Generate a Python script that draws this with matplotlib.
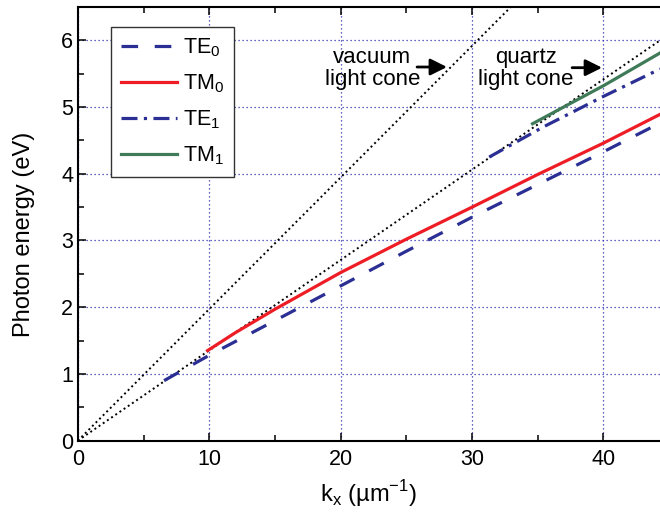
import matplotlib
matplotlib.use("Agg")
import matplotlib.pyplot as plt
from matplotlib.ticker import MultipleLocator

plt.rcParams['font.family'] = ['Liberation Sans', 'DejaVu Sans']
plt.rcParams['mathtext.fontset'] = 'custom'
plt.rcParams['mathtext.rm'] = 'Liberation Sans'

# values (k in 1/um, energy in eV)
te0_k = [6.56, 10.0, 15.0, 20.0, 25.0, 30.0, 35.0, 40.0, 44.3]
te0_e = [0.90, 1.28, 1.80, 2.32, 2.84, 3.35, 3.84, 4.33, 4.76]

tm0_k = [9.87, 12.0, 15.0, 20.0, 25.0, 30.0, 35.0, 40.0, 44.3]
tm0_e = [1.35, 1.62, 1.97, 2.52, 3.02, 3.50, 3.99, 4.46, 4.89]

te1_k = [31.3, 35.4, 40.0, 44.3]
te1_e = [4.25, 4.70, 5.16, 5.57]

tm1_k = [34.6, 40.0, 44.3]
tm1_e = [4.75, 5.32, 5.81]

vacuum_k = [0.0, 33.0]
vacuum_e = [0.0, 6.51]
quartz_k = [0.0, 48.0]
quartz_e = [0.0, 6.50]

blue = '#2b2f93'
red = '#ee1d25'
green = '#3f7b58'

fig = plt.figure(figsize=(6.6, 5.16), dpi=100)
ax = fig.add_axes([0.118, 0.146, 0.882, 0.8405])

ax.plot(vacuum_k, vacuum_e, color='k', lw=1.4, linestyle=(0, (1, 1.6)))
ax.plot(quartz_k, quartz_e, color='k', lw=1.4, linestyle=(0, (1, 1.6)))

ax.plot(te0_k, te0_e, color=blue, lw=2.3, linestyle=(0, (5.2, 5.2)), label='TE$_\\mathregular{0}$')
ax.plot(tm0_k, tm0_e, color=red, lw=2.3, label='TM$_\\mathregular{0}$')
ax.plot(te1_k, te1_e, color=blue, lw=2.3, linestyle=(0, (5, 2, 1, 2)), label='TE$_\\mathregular{1}$')
ax.plot(tm1_k, tm1_e, color=green, lw=2.3, label='TM$_\\mathregular{1}$')

ax.set_xlim(0, 44.3)
ax.set_ylim(0, 6.5)
ax.xaxis.set_major_locator(MultipleLocator(10))
ax.xaxis.set_minor_locator(MultipleLocator(5))
ax.yaxis.set_major_locator(MultipleLocator(1))
ax.yaxis.set_minor_locator(MultipleLocator(0.5))
ax.tick_params(which='both', direction='in', top=True, right=False, width=1.1, labelsize=15.5)
ax.tick_params(which='major', length=6)
ax.tick_params(which='minor', length=4)
ax.tick_params(axis='x', pad=6)
for side in ('left', 'bottom', 'top'):
    ax.spines[side].set_linewidth(1.5)
ax.spines['right'].set_visible(False)

ax.grid(True, which='major', color='#3030b0', lw=0.9, linestyle=(0, (1, 2.2)))
ax.set_axisbelow(True)

ax.set_xlabel('k$_\\mathregular{x}$ (\u00b5m$^\\mathregular{-1}$)', fontsize=17, labelpad=6)
ax.set_ylabel('Photon energy (eV)', fontsize=17)
ax.yaxis.set_label_coords(-0.074, 0.475)

ax.text(22.4, 5.58, 'vacuum\nlight cone', fontsize=16, ha='center', va='center', linespacing=1.1)
ax.annotate('', xy=(28.3, 5.6), xytext=(25.6, 5.6),
            arrowprops=dict(arrowstyle='-|>', color='k', lw=2.0, mutation_scale=25))
ax.text(34.1, 5.58, 'quartz\nlight cone', fontsize=16, ha='center', va='center', linespacing=1.1)
ax.annotate('', xy=(40.1, 5.59), xytext=(37.4, 5.59),
            arrowprops=dict(arrowstyle='-|>', color='k', lw=2.0, mutation_scale=25))

leg = ax.legend(loc='upper left', bbox_to_anchor=(0.057, 0.954), fontsize=15.5,
                handlelength=2.6, handletextpad=0.3, labelspacing=0.62,
                borderpad=0.45, borderaxespad=0, fancybox=False, framealpha=1)
leg.get_frame().set_edgecolor('#333333')
leg.get_frame().set_linewidth(1.0)

fig.savefig('out.png', dpi=100)
